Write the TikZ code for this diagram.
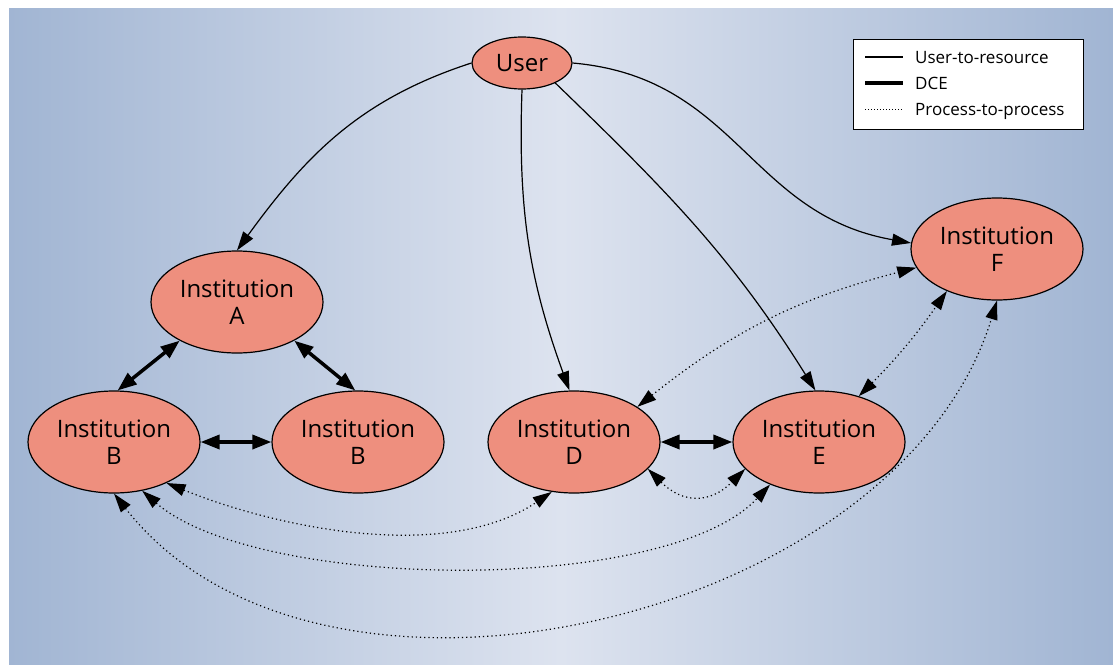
\documentclass[tikz,border=0pt]{standalone}
\usepackage{fontspec}
\setmainfont{Open Sans}
\usetikzlibrary{shapes.geometric,arrows.meta}

\definecolor{bgside}{RGB}{161,181,211}
\definecolor{bgmid}{RGB}{221,227,239}
\definecolor{instfill}{RGB}{238,143,126}

\begin{document}
\begin{tikzpicture}[x=1pt,y=1pt,
  inst/.style={ellipse,draw,line width=1.2pt,fill=instfill,minimum width=172pt,
    minimum height=102pt,inner sep=0pt,align=center,font=\fontsize{24}{27}\selectfont},
  usr/.style={inst,minimum width=100pt,minimum height=52pt},
  res/.style={line width=1.2pt,-{Triangle[length=19pt,width=12pt]}},
  dce/.style={line width=3.5pt,{Triangle[length=19pt,width=14pt]}-{Triangle[length=19pt,width=14pt]}},
  pp/.style={line width=1.2pt,dash pattern=on 1.2pt off 3pt,
    {Triangle[length=19pt,width=12pt]}-{Triangle[length=19pt,width=12pt]}},
  legtext/.style={anchor=base west,inner sep=0pt,font=\fontsize{17}{20}\selectfont}]

% background
\useasboundingbox (0,0) rectangle (1113,-664);
\fill[white] (0,0) rectangle (1113,-664);
\shade[left color=bgside,right color=bgside,middle color=bgmid] (9,-8) rectangle (1113,-664);

% nodes
\node[usr] (U) at (522,-63) {User};
\node[inst] (A) at (237,-302) {Institution\\A};
\node[inst] (B1) at (114,-442) {Institution\\B};
\node[inst] (B2) at (358,-442) {Institution\\B};
\node[inst] (D) at (574,-442) {Institution\\D};
\node[inst] (E) at (819,-442) {Institution\\E};
\node[inst] (F) at (997,-249) {Institution\\F};

% user-to-resource
\draw[res] (U.west) to[out=198,in=54] (A.north);
\draw[res] (U.south) to[out=268,in=110] (D.95);
\draw[res] (U.-31) to[out=-44,in=122] (E.94);
\draw[res] (U.east) to[out=-5,in=170,looseness=1.1] (F.176);

% DCE
\draw[dce] (A.214) -- (B1.86);
\draw[dce] (A.326) -- (B2.93);
\draw[dce] (B1.east) -- (B2.west);
\draw[dce] (D.east) -- (E.west);

% process-to-process
\draw[pp] (D.29) to[bend left=12] (F.193);
\draw[pp] (E.49) to[bend right=5] (F.220);
\draw[pp] (D.340) to[out=-45,in=225,looseness=1.3] (E.200);
\draw[pp] (B1.322) to[out=-22,in=214,looseness=0.83] (D.246);
\draw[pp] (B1.300) to[out=-41,in=227,looseness=0.62] (E.221);
\draw[pp] (B1.270) to[out=-52,in=253,looseness=0.95] (F.south);

% legend
\draw[fill=white,line width=0.8pt] (853,-39) rectangle (1083,-129);
\node[legtext] (L1) at (915,-63) {User-to-resource};
\node[legtext] (L2) at (915,-89) {DCE};
\node[legtext] (L3) at (915,-115) {Process-to-process};
\draw[line width=1.2pt] (865,-57) -- (903,-57);
\draw[line width=3.5pt] (865,-83) -- (903,-83);
\draw[line width=1pt,dash pattern=on 1pt off 2pt] (865,-109) -- (903,-109);

\end{tikzpicture}
\end{document}
